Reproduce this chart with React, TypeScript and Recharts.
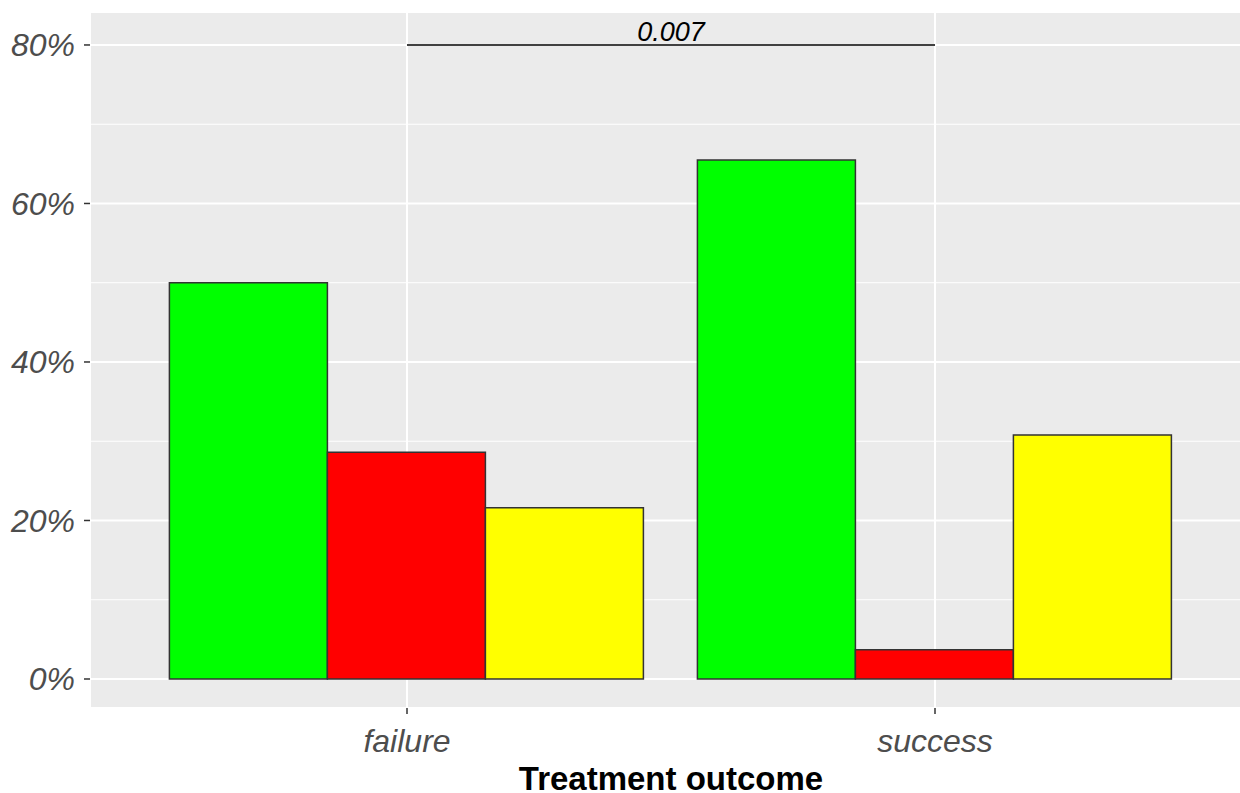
import React from 'react';
import { Bar, BarChart, CartesianGrid, Label, ReferenceLine, XAxis, YAxis } from 'recharts';

const outcomes = ['failure', 'success'];
const greenValues = [50.0, 65.5];
const redValues = [28.6, 3.7];
const yellowValues = [21.6, 30.8];
const majorTicks = [0, 20, 40, 60, 80];
const minorTicks = [10, 30, 50, 70];
const pLabel = '0.007';
const pLevel = 80;

const data = outcomes.map((outcome, i) => ({
    outcome,
    green: greenValues[i],
    red: redValues[i],
    yellow: yellowValues[i],
}));

const tickFont = { fill: '#4D4D4D', fontSize: 32, fontStyle: 'italic', fontFamily: 'Liberation Sans, Arial, sans-serif' };

export default function App() {
    return (
        <div style={{ position: 'absolute', left: 0, top: 0, width: 1240, height: 793, overflow: 'hidden', background: '#fff' }}>
            <BarChart
                width={1252}
                height={793}
                data={data}
                margin={{ top: 12, right: 0, left: 0, bottom: 0 }}
                barCategoryGap="5%"
                barGap={0}
            >
                <CartesianGrid fill="#EBEBEB" stroke="#FFFFFF" strokeWidth={2} />
                <CartesianGrid yAxisId="minor" stroke="#FFFFFF" strokeWidth={1} vertical={false} />
                <XAxis
                    dataKey="outcome"
                    height={85}
                    padding={{ left: 53, right: 53 }}
                    axisLine={false}
                    tickLine={{ stroke: '#333333', strokeWidth: 1.5 }}
                    tickSize={6}
                    tickMargin={15}
                    tick={tickFont}
                >
                    <Label
                        value="Treatment outcome"
                        position="insideBottom"
                        offset={3}
                        style={{ fill: '#000', fontSize: 33, fontWeight: 'bold', fontFamily: 'Liberation Sans, Arial, sans-serif' }}
                    />
                </XAxis>
                <YAxis
                    width={90}
                    domain={[-3.66, 84.16]}
                    allowDataOverflow
                    ticks={majorTicks}
                    tickFormatter={(v: number) => `${v}%`}
                    axisLine={false}
                    tickLine={{ stroke: '#333333', strokeWidth: 1.5 }}
                    tickSize={6}
                    tickMargin={9}
                    tick={tickFont}
                />
                <YAxis yAxisId="minor" hide domain={[-3.66, 84.16]} allowDataOverflow ticks={minorTicks} />
                <Bar dataKey="green" fill="#00FF00" stroke="#333333" strokeWidth={1.5} isAnimationActive={false} />
                <Bar dataKey="red" fill="#FF0000" stroke="#333333" strokeWidth={1.5} isAnimationActive={false} />
                <Bar dataKey="yellow" fill="#FFFF00" stroke="#333333" strokeWidth={1.5} isAnimationActive={false} />
                <ReferenceLine
                    segment={[
                        { x: outcomes[0], y: pLevel },
                        { x: outcomes[1], y: pLevel },
                    ]}
                    stroke="#000000"
                    strokeWidth={1.5}
                    label={{
                        value: pLabel,
                        position: 'top',
                        offset: 4,
                        fill: '#000',
                        fontSize: 27,
                        fontStyle: 'italic',
                        fontFamily: 'Liberation Sans, Arial, sans-serif',
                    }}
                />
            </BarChart>
        </div>
    );
}
